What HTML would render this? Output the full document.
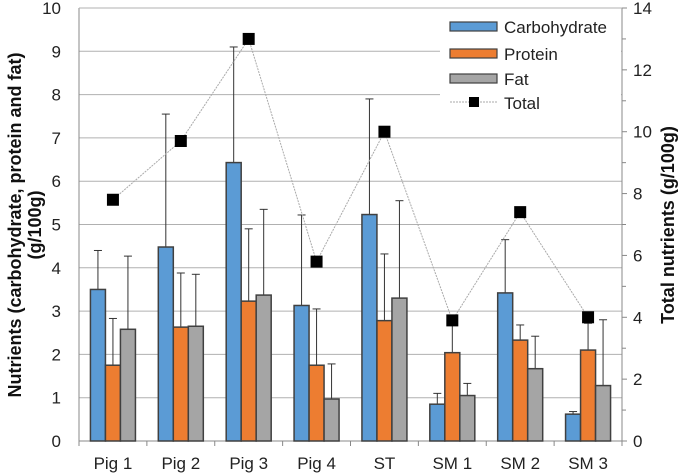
<!DOCTYPE html>
<html><head><meta charset="utf-8"><style>
body{margin:0;background:#fff;}
svg{display:block;font-family:"Liberation Sans",Arial,sans-serif;}
</style></head><body>
<svg id="chart" width="685" height="473"></svg>
<script>
const categories=["Pig 1","Pig 2","Pig 3","Pig 4","ST","SM 1","SM 2","SM 3"];
const carb=[3.5,4.48,6.43,3.13,5.23,0.85,3.42,0.62];
const carbErr=[4.4,7.55,9.1,5.22,7.9,1.1,4.65,0.68];
const protein=[1.75,2.63,3.23,1.75,2.78,2.04,2.33,2.1];
const proteinErr=[2.83,3.88,4.9,3.05,4.32,2.75,2.68,2.72];
const fat=[2.58,2.65,3.37,0.97,3.3,1.05,1.67,1.28];
const fatErr=[4.27,3.85,5.35,1.78,5.55,1.33,2.42,2.8];
const total=[7.8,9.7,13.0,5.8,10.0,3.9,7.4,4.0];
const leftTicks=[0,1,2,3,4,5,6,7,8,9,10];
const rightTicks=[0,2,4,6,8,10,12,14];

const NS="http://www.w3.org/2000/svg";
const svg=document.getElementById('chart');
const L=79,R=622,T=8,B=441;
const yL=v=>B-(B-T)*v/10;
const yR=v=>B-(B-T)*v/14;
const cw=(R-L)/categories.length;
const xc=i=>L+cw*(i+0.5);
function mk(tag,attrs,parent){const e=document.createElementNS(NS,tag);for(const k in attrs)e.setAttribute(k,attrs[k]);(parent||svg).appendChild(e);return e;}

leftTicks.forEach(t=>{
  const g=mk('line',{x1:L,x2:R,y1:yL(t),y2:yL(t),stroke:'#b0b0b0','stroke-width':1});
  
  
  const tx=mk('text',{x:L-18,y:yL(t)+6,'text-anchor':'end','font-size':17,fill:'#222'});
  tx.textContent=t;
  
  
});
rightTicks.forEach(t=>{
  mk('line',{x1:R,x2:R+5,y1:yR(t),y2:yR(t),stroke:'#888'});
  if(t<14) mk('line',{x1:R,x2:R+4,y1:yR(t+1),y2:yR(t+1),stroke:'#888'});
  const tx=mk('text',{x:R+11,y:yR(t)+6,'font-size':17,fill:'#222'});
  tx.textContent=t;
  
  
});
mk('line',{x1:L,x2:L,y1:T,y2:B,stroke:'#888'});
mk('line',{x1:R,x2:R,y1:T,y2:B,stroke:'#888'});
mk('line',{x1:L,x2:R,y1:B,y2:B,stroke:'#888'});
mk('line',{x1:L,x2:R,y1:T,y2:T,stroke:'#b0b0b0'});
for(let i=0;i<=categories.length;i++) mk('line',{x1:L+cw*i,x2:L+cw*i,y1:B,y2:B+5,stroke:'#888'});

const series=[[carb,carbErr,'#5b9bd5','bar-carbohydrate'],[protein,proteinErr,'#ed7d31','bar-protein'],[fat,fatErr,'#a5a5a5','bar-fat']];
const bw=15;
categories.forEach((c,i)=>{
  series.forEach((s,j)=>{
    const x=xc(i)-bw*1.5+bw*j;
    const v=s[0][i],e=s[1][i];
    mk('line',{x1:x+bw/2,x2:x+bw/2,y1:yL(e),y2:yL(v),stroke:'#333','stroke-width':1});
    mk('line',{x1:x+bw/2-4,x2:x+bw/2+4,y1:yL(e),y2:yL(e),stroke:'#333','stroke-width':1});
    const r=mk('rect',{x:x,y:yL(v),width:bw,height:B-yL(v),fill:s[2],stroke:'#404040','stroke-width':1.5});
    
    
  });
  const lb=mk('text',{x:xc(i),y:B+28,'text-anchor':'middle','font-size':17,fill:'#222'});
  lb.textContent=c;
  
  
});
const pts=total.map((v,i)=>xc(i)+','+yR(v)).join(' ');
mk('polyline',{points:pts,fill:'none',stroke:'#aaa','stroke-width':1,'stroke-dasharray':'2,1'});
total.forEach((v,i)=>{
  const m=mk('rect',{x:xc(i)-6,y:yR(v)-6,width:12,height:12,fill:'#000'});
  
  
});
const lg=mk('g',{});


mk('rect',{x:440,y:9,width:R-441,height:106,fill:'#fff'},lg);
const items=[['Carbohydrate','#5b9bd5',26],['Protein','#ed7d31',53],['Fat','#a5a5a5',78]];
items.forEach(it=>{
  mk('rect',{x:450,y:it[2]-4,width:47,height:9,fill:it[1],stroke:'#404040','stroke-width':1.2},lg);
  const t=mk('text',{x:504,y:it[2]+7,'font-size':17,fill:'#222'},lg);t.textContent=it[0];
  
  
});
mk('line',{x1:450,x2:497,y1:102,y2:102,stroke:'#aaa','stroke-dasharray':'2,1'},lg);
mk('rect',{x:469,y:97,width:10,height:10,fill:'#000'},lg);
const tt=mk('text',{x:504,y:109,'font-size':17,fill:'#222'},lg);tt.textContent='Total';


const t1=mk('text',{x:0,y:0,'font-size':18,'font-weight':'bold','text-anchor':'middle',fill:'#111',transform:'translate(21,225) rotate(-90)'});
t1.textContent='Nutrients (carbohydrate, protein and fat)';


const t2=mk('text',{x:0,y:0,'font-size':18,'font-weight':'bold','text-anchor':'middle',fill:'#111',transform:'translate(41,225) rotate(-90)'});
t2.textContent='(g/100g)';


const t3=mk('text',{x:0,y:0,'font-size':18,'font-weight':'bold','text-anchor':'middle',fill:'#111',transform:'translate(674,225) rotate(-90)'});
t3.textContent='Total nutrients (g/100g)';


</script>
</body></html>
